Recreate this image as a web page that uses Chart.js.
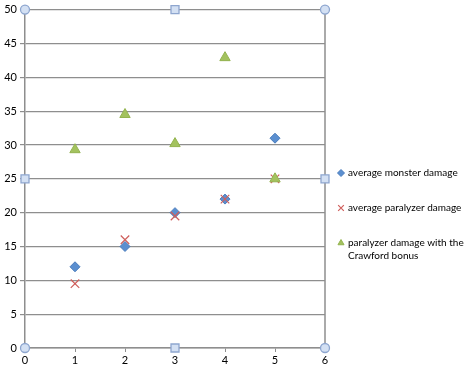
<!DOCTYPE html>
<html>
<head>
<meta charset="utf-8">
<script src="https://cdn.jsdelivr.net/npm/chart.js@4.4.1/dist/chart.umd.min.js"></script>
<style>
  html, body { margin: 0; padding: 0; background: #fff; }
  #wrap { width: 474px; height: 370px; position: relative; }
</style>
</head>
<body>
<div id="wrap"><canvas id="myChart"></canvas></div>
<script>
// data
const xValues = [1, 2, 3, 4, 5];
const monsterDamage = [12, 15, 20, 22, 31];
const paralyzerDamage = [9.5, 16, 19.5, 22, 25];
const crawfordDamage = [29.3, 34.5, 30.2, 42.9, 25];
const seriesNames = [
    ["average monster damage"],
    ["average paralyzer damage"],
    ["paralyzer damage with the", "Crawford bonus"]
];
const yTicks = [0, 5, 10, 15, 20, 25, 30, 35, 40, 45, 50];
const xTicks = [0, 1, 2, 3, 4, 5, 6];

const FONT = "Lato";
const gridColor = "#8e8e8e";

function toPoints(ys){
    return xValues.map((x, i) => ({ x: x, y: ys[i] }));
}

const styles = [
    { pointStyle: "rectRot", bg: "#5b8fd0", border: "#4a7cbc", radius: 5, borderWidth: 1, legendR: 3.5 },
    { pointStyle: "crossRot", bg: "#c0504d", border: "#cf5f5c", radius: 6, borderWidth: 1.2, legendR: 4 },
    { pointStyle: "triangle", bg: "#a3c25e", border: "#93b34f", radius: 6, borderWidth: 1, legendR: 3.5 }
];

const allSeries = [monsterDamage, paralyzerDamage, crawfordDamage];

const datasets = allSeries.map((s, i) => ({
    label: seriesNames[i].join(" "),
    data: toPoints(s),
    order: allSeries.length - i,
    pointStyle: styles[i].pointStyle,
    backgroundColor: styles[i].bg,
    borderColor: styles[i].border,
    pointRadius: styles[i].radius,
    pointBorderWidth: styles[i].borderWidth,
    showLine: false
}));

// right border, selection handles and the legend
const extras = {
    id: "extras",
    beforeDatasetsDraw(chart){
        const ctx = chart.ctx;
        const a = chart.chartArea;
        ctx.save();
        ctx.strokeStyle = gridColor;
        ctx.lineWidth = 1.5;
        ctx.beginPath();
        ctx.moveTo(a.right, a.top);
        ctx.lineTo(a.right, a.bottom);
        ctx.stroke();
        ctx.restore();
    },
    afterDraw(chart){
        const ctx = chart.ctx;
        const xs = chart.scales.x, ys = chart.scales.y;
        ctx.save();
        // handles
        const handles = [
            [0, 0, "c"], [0, 50, "c"], [6, 0, "c"], [6, 50, "c"],
            [3, 0, "s"], [3, 50, "s"], [0, 25, "s"], [6, 25, "s"]
        ];
        handles.forEach(h => {
            const px = xs.getPixelForValue(h[0]);
            const py = ys.getPixelForValue(h[1]);
            ctx.fillStyle = "#d3e0f3";
            ctx.strokeStyle = "#8ea6cf";
            ctx.lineWidth = 1.3;
            ctx.beginPath();
            if (h[2] == "c") {
                ctx.arc(px, py, 4.5, 0, Math.PI * 2);
            } else {
                ctx.rect(px - 4, py - 4, 8, 8);
            }
            ctx.fill();
            ctx.stroke();
        });

        // legend
        const lx = 341, textX = 348;
        const rows = [173, 208, 243];
        ctx.font = "10px " + FONT;
        ctx.textBaseline = "middle";
        chart.data.datasets.forEach((ds, i) => {
            const y = rows[i];
            ctx.fillStyle = ds.backgroundColor;
            ctx.strokeStyle = ds.borderColor;
            ctx.lineWidth = ds.pointBorderWidth;
            Chart.helpers.drawPoint(ctx, { pointStyle: ds.pointStyle, radius: styles[i].legendR, borderWidth: ds.pointBorderWidth }, lx, y);
            ctx.fillStyle = "#000";
            seriesNames[i].forEach((line, j) => {
                ctx.fillText(line, textX, y + j * 13);
            });
        });
        ctx.restore();
    }
};

new Chart(document.getElementById("myChart"), {
    type: "scatter",
    data: { datasets: datasets },
    plugins: [extras],
    options: {
        responsive: true,
        maintainAspectRatio: false,
        animation: false,
        layout: { padding: { left: 0, right: 149, top: 9, bottom: 0 } },
        plugins: {
            legend: { display: false },
            tooltip: { enabled: false }
        },
        scales: {
            x: {
                type: "linear",
                min: 0, max: 6,
                afterBuildTicks: axis => { axis.ticks = xTicks.map(v => ({ value: v })); },
                afterFit: axis => { axis.height = 22; },
                border: { display: true, color: gridColor, width: 1.5 },
                grid: { drawOnChartArea: false, drawTicks: true, tickLength: 4, color: gridColor, lineWidth: 1 },
                ticks: { color: "#000", font: { family: FONT, size: 11 }, padding: 2, maxRotation: 0 }
            },
            y: {
                type: "linear",
                min: 0, max: 50,
                afterBuildTicks: axis => { axis.ticks = yTicks.map(v => ({ value: v })); },
                afterFit: axis => { axis.width = 25; },
                border: { display: true, color: gridColor, width: 1.5 },
                grid: { color: gridColor, lineWidth: 1.2, tickLength: 5 },
                ticks: { color: "#000", font: { family: FONT, size: 11 }, padding: 3 }
            }
        }
    }
});
</script>
</body>
</html>
